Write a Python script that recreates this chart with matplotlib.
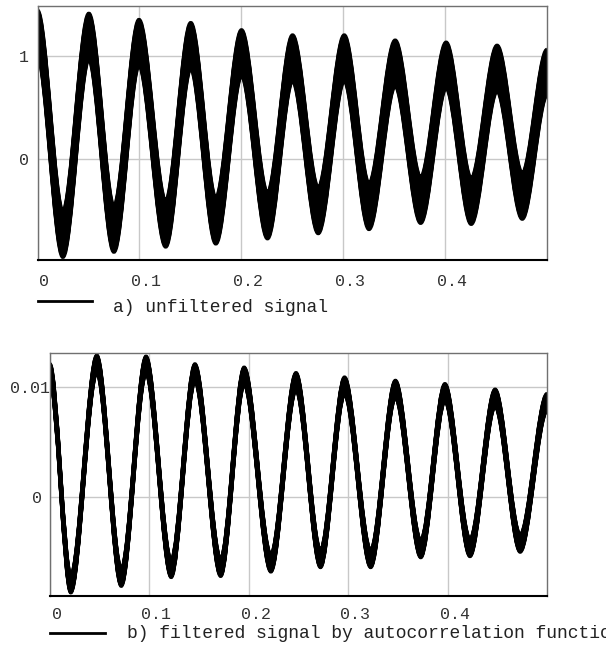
import numpy as np
import matplotlib
matplotlib.use("Agg")
import matplotlib.pyplot as plt
from matplotlib.path import Path
from matplotlib.patches import PathPatch
from matplotlib.transforms import Affine2D, ScaledTranslation
from matplotlib.lines import Line2D

# ---- data: extrema (time, centre of noisy band) ----
t_unfiltered = [0.0, 0.0249, 0.0504, 0.075, 0.0996, 0.1258, 0.1504, 0.175,
                0.2002, 0.2257, 0.2503, 0.2755, 0.301, 0.3253, 0.351, 0.376,
                0.401, 0.4256, 0.451, 0.4757, 0.5]
v_unfiltered = [1.22, -0.73, 1.19, -0.68, 1.13, -0.63, 1.10, -0.60,
                1.03, -0.55, 0.98, -0.50, 0.98, -0.46, 0.93, -0.40,
                0.91, -0.41, 0.88, -0.36, 0.84]
noise_unfiltered = 0.22   # half-height of the noise band

t_filtered = [0.0, 0.0209, 0.0471, 0.0717, 0.0966, 0.1219, 0.1458, 0.1717,
              0.1953, 0.2222, 0.2475, 0.2721, 0.2963, 0.3226, 0.3475, 0.373,
              0.3973, 0.4225, 0.4478, 0.473, 0.5]
v_filtered = [0.0113, -0.0079, 0.0121, -0.0073, 0.0120, -0.0065, 0.0113, -0.0064,
              0.0110, -0.0060, 0.0105, -0.0056, 0.0101, -0.0056, 0.0098, -0.0047,
              0.0095, -0.0046, 0.0090, -0.0042, 0.0086]
noise_filtered = 0.0008

x_ticks = [0, 0.1, 0.2, 0.3, 0.4]
x_ticklabels = ["0", "0.1", "0.2", "0.3", "0.4"]
y_ticks_a = [0, 1]
y_ticklabels_a = ["0", "1"]
y_ticks_b = [0, 0.01]
y_ticklabels_b = ["0", "0.01"]
label_a = "a) unfiltered signal"
label_b = "b) filtered signal by autocorrelation function"

W, H, DPI = 606, 645, 100
fig = plt.figure(figsize=(W / DPI, H / DPI), dpi=DPI)
FONT = "Liberation Mono"
TXT = "#333333"


def smooth_path(ts, vs, k=0.32):
    verts = [(ts[0], vs[0])]
    codes = [Path.MOVETO]
    for i in range(len(ts) - 1):
        dt = ts[i + 1] - ts[i]
        verts += [(ts[i] + k * dt, vs[i]), (ts[i + 1] - k * dt, vs[i + 1]),
                  (ts[i + 1], vs[i + 1])]
        codes += [Path.CURVE4] * 3
    return Path(verts, codes)


def px_box(left, top, right, bottom):
    return [left / W, 1 - bottom / H, (right - left) / W, (bottom - top) / H]


def setup(ax, ylim, yticks, ylabels, xpad, ylab_shift):
    ax.set_xlim(0, 0.5)
    ax.set_ylim(*ylim)
    ax.set_xticks(x_ticks)
    ax.set_xticklabels(x_ticklabels)
    ax.set_yticks(yticks)
    ax.set_yticklabels(ylabels)
    ax.grid(True, color="#c8c8c8", lw=1.0)
    ax.set_axisbelow(True)
    ax.tick_params(length=0, labelsize=12, labelcolor=TXT)
    ax.tick_params(axis="x", pad=xpad)
    ax.tick_params(axis="y", pad=6)
    for lab in ax.get_xticklabels() + ax.get_yticklabels():
        lab.set_fontfamily(FONT)
    for lab in ax.get_xticklabels():
        lab.set_transform(lab.get_transform() +
                          ScaledTranslation(7 / DPI, 0, fig.dpi_scale_trans))
    for lab, s in zip(ax.get_yticklabels(), ylab_shift):
        lab.set_transform(lab.get_transform() +
                          ScaledTranslation(s / DPI, 0, fig.dpi_scale_trans))
    for side in ("left", "top", "right"):
        ax.spines[side].set_color("#707070")
        ax.spines[side].set_linewidth(1.0)
    ax.spines["bottom"].set_color("black")
    ax.spines["bottom"].set_linewidth(1.5)


def draw_band(ax, ts, vs, h, lw, n=31):
    path = smooth_path(ts, vs)
    for dy in np.linspace(-h, h, n):
        p = PathPatch(path, fill=False, edgecolor="black", lw=lw,
                      transform=Affine2D().translate(0, dy) + ax.transData)
        ax.add_patch(p)


# top panel
ax1 = fig.add_axes(px_box(37.5, 6, 547, 260))
setup(ax1, (-0.98, 1.485), y_ticks_a, y_ticklabels_a, 10, [0, 0])
draw_band(ax1, t_unfiltered, v_unfiltered, noise_unfiltered, 2.9)

# bottom panel
ax2 = fig.add_axes(px_box(50, 353, 547, 596))
setup(ax2, (-0.0090, 0.0131), y_ticks_b, y_ticklabels_b, 8, [0, 8])
draw_band(ax2, t_filtered, v_filtered, noise_filtered, 2.5)

# legend lines and captions
fig.add_artist(Line2D([37.5 / W, 92 / W], [1 - 301 / H, 1 - 301 / H],
                      color="black", lw=2.0))
fig.text(113 / W, 1 - 312 / H, label_a, family=FONT, fontsize=13,
         color="#222222", va="baseline", ha="left")
fig.add_artist(Line2D([50 / W, 105 / W], [1 - 633 / H, 1 - 633 / H],
                      color="black", lw=2.0))
fig.text(127 / W, 1 - 638 / H, label_b, family=FONT, fontsize=13,
         color="#222222", va="baseline", ha="left")

fig.savefig("out.png", dpi=DPI)
